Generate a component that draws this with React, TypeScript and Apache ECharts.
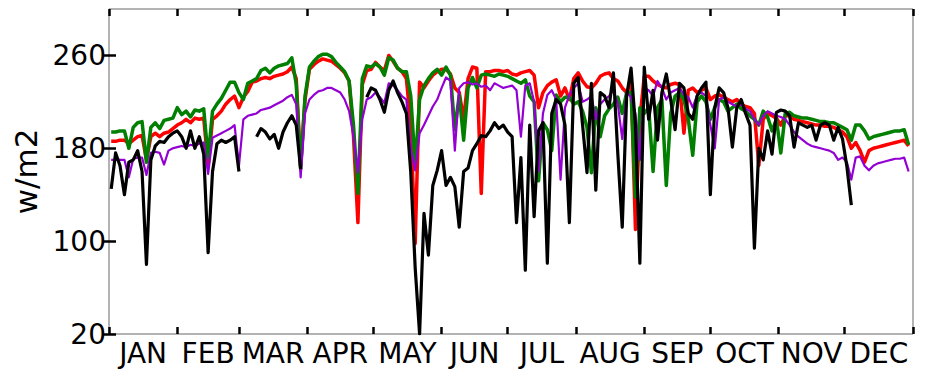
import React, { useEffect, useRef } from "react";
import * as echarts from "echarts";

// Month labels and boundaries (day of year)
const MONTHS = ["JAN", "FEB", "MAR", "APR", "MAY", "JUN", "JUL", "AUG", "SEP", "OCT", "NOV", "DEC"];
const MONTH_BOUNDS = [0, 31, 59, 90, 120, 151, 181, 212, 243, 273, 304, 334, 365];
const Y_TICKS = [20, 100, 180, 260];
const FIRST_DAY = 1;
const DAY_STEP = 2;
const _ = null;

// Values sampled every second day (day 1, 3, 5, ... 365), w/m2
const RED = [
  186, 186, 187, 187, 184, 187, 190, 191, 170, 190, 193, 190, 193, 194, 197, 200,
  202, 205, 202, 206, 205, 206, 165, 205, 208, 212, 218, 222, 225, 215,
  224, 229, 237, 238, 240, 241, 240, 242, 243, 244, 246, 250, 240, 165, 222,
  248, 252, 255, 257, 256, 255, 252, 249, 245, 238, 190, 116, 235, 247, 248,
  254, 250, 247, 260, 255, 249, 246, 240, 200, 98, 237, 232, 238, 243, 246, 248,
  248, 244, 232, 228, 205, 240, 250, 249, 141, 246, 246, 247, 247, 246, 247,
  244, 243, 245, 246, 247, 243, 215, 228, 234, 237, 239, 225, 232, 222, 240,
  245, 238, 233, 232, 236, 242, 244, 245, 240, 238, 232, 228, 238, 110, 205, 242,
  242, 238, 235, 233, 232, 235, 236, 235, 193, 230, 232, 228, 230, 232, 222,
  225, 226, 224, 222, 220, 222, 218, 216, 215, 210, 165, 205, 210, 208, 206,
  200, 208, 208, 205, 204, 203, 202, 201, 200, 200, 199, 199, 198, 196, 194,
  190, 180, 185, 178, 168, 178, 180, 181, 182, 183, 184, 185, 186, 187, 182, _,
];

const GREEN = [
  194, 194, 195, 195, 180, 198, 202, 203, 168, 198, 202, 197, 204, 205, 206, 215,
  209, 212, 207, 213, 212, 214, 172, 212, 218, 223, 230, 237, 237, 228,
  222, 236, 238, 240, 247, 249, 245, 249, 251, 252, 253, 258, 235, 162, 225,
  250, 255, 259, 261, 261, 259, 254, 250, 246, 238, 200, 141, 240, 251, 250,
  253, 250, 243, 258, 256, 249, 246, 246, 225, 165, 222, 234, 240, 245, 248, 243,
  250, 243, 196, 226, 187, 232, 241, 232, 243, 244, 243, 242, 244, 243, 242,
  240, 238, 236, 239, 225, 220, 152, 202, 196, 178, 226, 220, 224, 224, 218,
  220, 212, 198, 159, 215, 190, 208, 214, 218, 224, 210, 228, 228, 138, 215, 210,
  215, 160, 215, 222, 148, 210, 225, 228, 222, 205, 174, 220, 225, 220, 205,
  215, 222, 220, 212, 215, 218, 214, 212, 208, 205, 200, 212, 207, 195, 205,
  176, 210, 211, 208, 207, 206, 206, 205, 204, 203, 203, 202, 202, 200, 198,
  196, 187, 200, 200, 195, 188, 190, 191, 192, 193, 194, 195, 195, 196, 183, _,
];

const PURPLE = [
  170, 170, 170, 170, 155, 171, 172, 172, 157, 176, 177, 176, 166, 178, 180, 181,
  182, 181, 183, 182, 184, 185, 158, 189, 191, 193, 195, 197, 200, 165,
  205, 208, 209, 210, 213, 214, 215, 217, 219, 221, 224, 226, 218, 155, 210,
  222, 226, 229, 230, 232, 232, 230, 228, 222, 212, 190, 159, 205, 222, 224,
  228, 224, 219, 236, 234, 230, 225, 222, 180, 161, 193, 200, 208, 216, 222, 232,
  241, 238, 178, 232, 236, 237, 235, 236, 233, 234, 230, 236, 234, 232, 233,
  234, 230, 190, 234, 236, 220, 160, 210, 226, 230, 222, 153, 215, 226, 232,
  236, 220, 222, 225, 205, 218, 222, 225, 230, 218, 188, 228, 224, 210, 170, 232,
  230, 225, 238, 232, 222, 228, 230, 232, 226, 224, 215, 226, 228, 225, 200,
  180, 222, 224, 220, 218, 216, 218, 214, 212, 205, 200, 208, 212, 210, 208,
  207, 205, 200, 194, 190, 187, 184, 182, 181, 180, 179, 178, 176, 170, 172,
  168, 153, 172, 173, 165, 161, 165, 167, 168, 169, 170, 171, 171, 172, 160, _,
];

const BLACK = [
  145, 176, 165, 140, 168, 170, 178, 160, 80, 170, 182, 186, 185, 190, 193, 195,
  190, 180, 195, 180, 190, 175, 90, 160, 184, 187, 185, 187, 190, 160,
  _, _, _, 190, 197, 194, 188, 192, 180, 194, 202, 208, 200, 162, _,
  _, _, _, _, _, _, _, _, _, _, _, _, _, 224, 232,
  230, 222, 211, 230, 238, 228, 220, 210, 159, 77, 20, 124, 88, 148, 161, 178,
  148, 155, 147, 112, 160, 163, 178, 184, 191, 190, 195, 202, 197, 200, 194,
  190, 116, 172, 75, 200, 121, 195, 202, 81, 210, 222, 218, 200, 116, 236,
  241, 200, 159, 236, 144, 228, 225, 215, 245, 175, 112, 225, 249, 200, 81, 250,
  205, 230, 187, 228, 244, 222, 196, 236, 232, 210, 205, 225, 232, 237, 140,
  215, 232, 228, 215, 181, 215, 222, 210, 200, 94, 180, 170, 195, 175, 211,
  213, 212, 208, 181, 202, 200, 198, 200, 187, 200, 202, 200, 187, 198, 188,
  164, 131, _, _, _, _, _, _, _, _, _, _, _, _, _, _,
];

const MONTH_MIDS = MONTHS.map((_m, i) => (MONTH_BOUNDS[i] + MONTH_BOUNDS[i + 1]) / 2);

const toPairs = (vals: (number | null)[]) =>
  vals.map((v, i) => [FIRST_DAY + DAY_STEP * i, v === null ? "-" : v]);

const FONT = "DejaVu Sans";

export default function App() {
  const ref = useRef<HTMLDivElement>(null);

  useEffect(() => {
    if (!ref.current) return;
    const chart = echarts.init(ref.current, null, { renderer: "svg" });

    const tickStyle = { color: "#000", width: 2.5 };
    const monthLabel = (value: number) => {
      const i = MONTH_MIDS.findIndex((m) => Math.abs(m - value) < 0.01);
      return i >= 0 ? MONTHS[i] : "";
    };

    const xBase = {
      type: "value",
      min: 0,
      max: 365,
      axisLine: { show: false },
      splitLine: { show: false },
      axisTick: { show: true, inside: true, length: 7, lineStyle: tickStyle, customValues: MONTH_BOUNDS },
    };
    const yBase = {
      type: "value",
      min: 20,
      max: 300,
      axisLine: { show: false },
      splitLine: { show: false },
      axisTick: { show: true, inside: true, length: 7, lineStyle: tickStyle, customValues: Y_TICKS },
    };

    const line = (name: string, vals: (number | null)[], color: string, width: number) => ({
      name,
      type: "line",
      data: toPairs(vals),
      showSymbol: false,
      symbol: "none",
      connectNulls: false,
      lineStyle: { color, width, join: "round" },
      itemStyle: { color },
      xAxisIndex: 0,
      yAxisIndex: 0,
      z: 2,
    });

    chart.setOption({
      animation: false,
      backgroundColor: "#fff",
      grid: {
        left: 109,
        right: 30,
        top: 9,
        bottom: 42,
        show: true,
        borderColor: "#666",
        borderWidth: 1,
        backgroundColor: "transparent",
      },
      xAxis: [
        {
          ...xBase,
          position: "bottom",
          axisLabel: {
            show: true,
            customValues: MONTH_MIDS,
            formatter: monthLabel,
            fontSize: 28,
            fontFamily: FONT,
            color: "#000",
            margin: 5,
          },
        },
        { ...xBase, position: "top", axisLabel: { show: false } },
      ],
      yAxis: [
        {
          ...yBase,
          position: "left",
          axisLabel: {
            show: true,
            customValues: Y_TICKS,
            fontSize: 28,
            fontFamily: FONT,
            color: "#000",
            margin: 3,
          },
          name: "w/m2",
          nameLocation: "middle",
          nameGap: 59,
          nameTextStyle: { fontSize: 31, fontFamily: FONT, color: "#000" },
        },
        { ...yBase, position: "right", axisLabel: { show: false } },
      ],
      series: [
        line("red", RED, "#ff0000", 3.5),
        line("green", GREEN, "#007f00", 3.5),
        line("purple", PURPLE, "#9400d3", 2.2),
        line("black", BLACK, "#000000", 3.2),
      ],
    });

    return () => chart.dispose();
  }, []);

  return (
    <div
      ref={ref}
      style={{ position: "fixed", left: 0, top: 0, width: 943, height: 376, background: "#fff" }}
    />
  );
}
